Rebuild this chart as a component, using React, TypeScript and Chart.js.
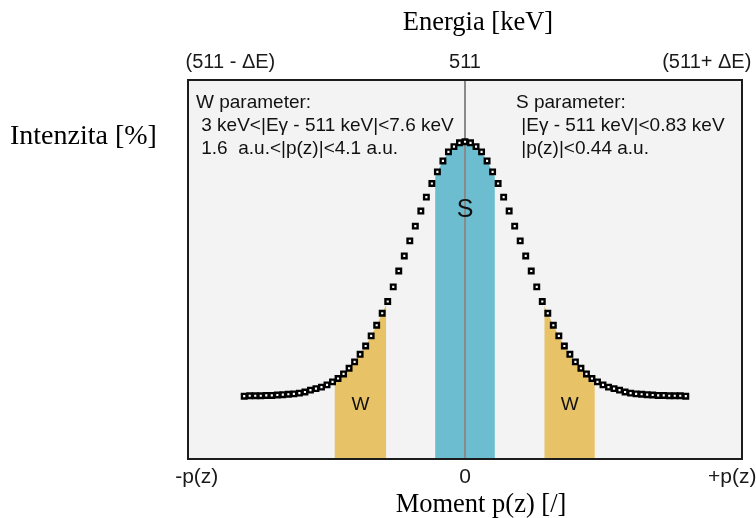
import React, { useEffect, useRef } from "react";
import { Chart, registerables } from "chart.js";

Chart.register(...registerables);

// Momentum p(z) (arbitrary units, centre = 0)
const MOMENTUM = [
  -4.0, -3.9, -3.8, -3.7, -3.6, -3.5, -3.4, -3.3, -3.2, -3.1,
  -3.0, -2.9, -2.8, -2.7, -2.6, -2.5, -2.4, -2.3, -2.2, -2.1,
  -2.0, -1.9, -1.8, -1.7, -1.6, -1.5, -1.4, -1.3, -1.2, -1.1,
  -1.0, -0.9, -0.8, -0.7, -0.6, -0.5, -0.4, -0.3, -0.2, -0.1,
  0.0,
  0.1, 0.2, 0.3, 0.4, 0.5, 0.6, 0.7, 0.8, 0.9, 1.0,
  1.1, 1.2, 1.3, 1.4, 1.5, 1.6, 1.7, 1.8, 1.9, 2.0,
  2.1, 2.2, 2.3, 2.4, 2.5, 2.6, 2.7, 2.8, 2.9, 3.0,
  3.1, 3.2, 3.3, 3.4, 3.5, 3.6, 3.7, 3.8, 3.9, 4.0,
];

// Intensity [%]
const INTENSITY = [
  16.4, 16.5, 16.5, 16.5, 16.6, 16.6, 16.7, 16.8, 16.9, 17.0,
  17.2, 17.5, 18.0, 18.4, 18.8, 19.4, 20.2, 21.1, 22.3, 23.8,
  25.5, 27.5, 29.7, 32.4, 35.2, 38.4, 41.5, 45.4, 49.6, 53.6,
  57.6, 61.5, 65.5, 69.2, 72.8, 75.9, 78.8, 81.2, 82.6, 83.6,
  83.9,
  83.6, 82.6, 81.2, 78.8, 75.9, 72.8, 69.2, 65.5, 61.5, 57.6,
  53.6, 49.6, 45.4, 41.5, 38.4, 35.2, 32.4, 29.7, 27.5, 25.5,
  23.8, 22.3, 21.1, 20.2, 19.4, 18.8, 18.4, 18.0, 17.5, 17.2,
  17.0, 16.9, 16.8, 16.7, 16.6, 16.6, 16.5, 16.5, 16.5, 16.4,
];

// Integration windows
const W_RANGES = [
  [-2.36, -1.43],
  [1.44, 2.35],
];
const S_RANGE = [-0.54, 0.54];

// Axis tick labels and their positions on the momentum axis
const BOTTOM_TICK_LABELS = ["-p(z)", "0", "+p(z)"];
const BOTTOM_TICK_VALUES = [-4.86, 0, 4.84];
const TOP_TICK_LABELS = ["(511 - ΔE)", "511", "(511+ ΔE)"];
const TOP_TICK_VALUES = [-4.25, 0, 4.38];

const X_TITLE = "Moment p(z) [/]";
const TOP_TITLE = "Energia [keV]";
const Y_TITLE = "Intenzita [%]";

const W_TEXT = ["W parameter:", " 3 keV<|Eγ - 511 keV|<7.6 keV", " 1.6  a.u.<|p(z)|<4.1 a.u."];
const S_TEXT = ["S parameter:", " |Eγ - 511 keV|<0.83 keV", " |p(z)|<0.44 a.u."];

const SANS = '"Liberation Sans", Arial, sans-serif';
const SERIF = '"Liberation Serif", "Times New Roman", serif';

const decor = {
  id: "decor",
  beforeDatasetsDraw(chart: any) {
    const { ctx, chartArea: a, scales } = chart;
    const x = scales.x;
    const y = scales.y;
    ctx.save();
    ctx.fillStyle = "#f3f3f3";
    ctx.fillRect(a.left, a.top, a.right - a.left, a.bottom - a.top);

    const fillRegion = (lo: number, hi: number, color: string) => {
      ctx.save();
      const x0 = x.getPixelForValue(lo);
      const x1 = x.getPixelForValue(hi);
      ctx.beginPath();
      ctx.rect(x0, a.top, x1 - x0, a.bottom - a.top);
      ctx.clip();
      ctx.beginPath();
      ctx.moveTo(x.getPixelForValue(MOMENTUM[0]), a.bottom);
      MOMENTUM.forEach((m, i) => ctx.lineTo(x.getPixelForValue(m), y.getPixelForValue(INTENSITY[i])));
      ctx.lineTo(x.getPixelForValue(MOMENTUM[MOMENTUM.length - 1]), a.bottom);
      ctx.closePath();
      ctx.fillStyle = color;
      ctx.fill();
      ctx.restore();
    };
    W_RANGES.forEach((r) => fillRegion(r[0], r[1], "#e8c266"));
    fillRegion(S_RANGE[0], S_RANGE[1], "#6bbdcf");

    const xc = x.getPixelForValue(0);
    ctx.strokeStyle = "#8a8a8a";
    ctx.lineWidth = 2;
    ctx.beginPath();
    ctx.moveTo(xc, a.top);
    ctx.lineTo(xc, a.bottom);
    ctx.stroke();
    ctx.restore();
  },
  afterDraw(chart: any) {
    const { ctx, chartArea: a, scales } = chart;
    const x = scales.x;
    ctx.save();
    // frame
    ctx.strokeStyle = "#1c1c1c";
    ctx.lineWidth = 2;
    ctx.strokeRect(a.left - 1, a.top - 1, a.right - a.left + 2, a.bottom - a.top + 2);

    ctx.fillStyle = "#111";
    ctx.textBaseline = "middle";

    // region labels
    ctx.textAlign = "center";
    ctx.font = `25px ${SANS}`;
    ctx.fillText("S", x.getPixelForValue(0), 210);
    ctx.font = `19px ${SANS}`;
    ctx.fillText("W", x.getPixelForValue((W_RANGES[0][0] + W_RANGES[0][1]) / 2), 405);
    ctx.fillText("W", x.getPixelForValue((W_RANGES[1][0] + W_RANGES[1][1]) / 2), 405);

    // annotation blocks
    ctx.textAlign = "left";
    W_TEXT.forEach((t, i) => ctx.fillText(t, 196, 103 + i * 23));
    S_TEXT.forEach((t, i) => ctx.fillText(t, 516, 103 + i * 23));

    // tick labels
    ctx.textAlign = "center";
    ctx.font = `20px ${SANS}`;
    ctx.fillStyle = "#1a1a1a";
    TOP_TICK_LABELS.forEach((t, i) => ctx.fillText(t, x.getPixelForValue(TOP_TICK_VALUES[i]), 62));
    ctx.font = `21px ${SANS}`;
    BOTTOM_TICK_LABELS.forEach((t, i) => ctx.fillText(t, x.getPixelForValue(BOTTOM_TICK_VALUES[i]), 477));

    // titles
    ctx.fillStyle = "#000";
    ctx.font = `26.5px ${SERIF}`;
    ctx.fillText(TOP_TITLE, 478, 23);
    ctx.fillText(X_TITLE, 481, 505);
    ctx.textAlign = "left";
    ctx.font = `28px ${SERIF}`;
    ctx.fillText(Y_TITLE, 10, 137);
    ctx.restore();
  },
};

export default function App() {
  const ref = useRef<HTMLCanvasElement>(null);
  useEffect(() => {
    if (!ref.current) return;
    const chart = new Chart(ref.current, {
      type: "line",
      data: {
        datasets: [
          {
            data: MOMENTUM.map((m, i) => ({ x: m, y: INTENSITY[i] })),
            showLine: false,
            pointStyle: "rect",
            pointRadius: 3.2,
            pointBorderWidth: 2.4,
            pointBackgroundColor: "#ffffff",
            pointBorderColor: "#000000",
          },
        ],
      },
      options: {
        responsive: false,
        animation: false,
        events: [],
        layout: { padding: { left: 189, right: 15, top: 81, bottom: 60 } },
        scales: {
          x: { type: "linear", min: -5, max: 5, display: false },
          y: { type: "linear", min: 0, max: 100, display: false },
        },
        plugins: { legend: { display: false }, tooltip: { enabled: false } },
      },
      plugins: [decor],
    } as any);
    return () => chart.destroy();
  }, []);
  return (
    <div style={{ position: "fixed", left: 0, top: 0, width: 756, height: 518, background: "#fff" }}>
      <canvas ref={ref} width={756} height={518} style={{ display: "block" }} />
    </div>
  );
}
